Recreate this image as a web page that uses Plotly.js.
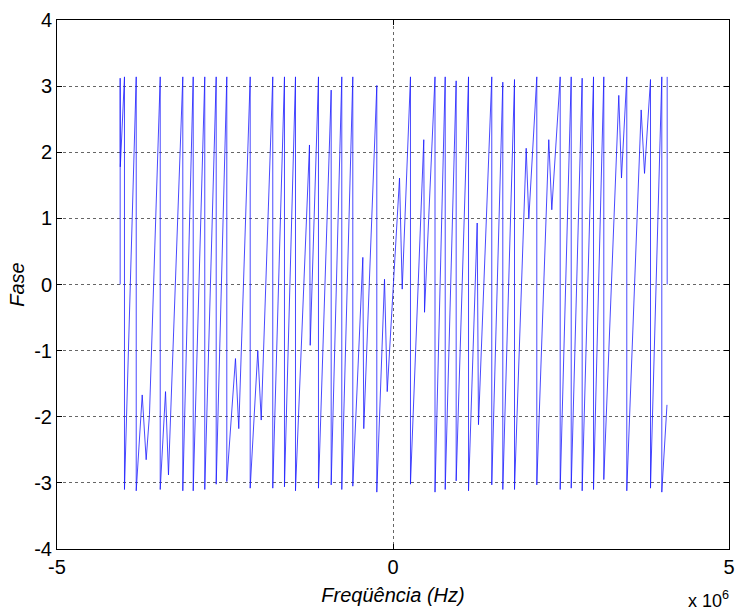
<!DOCTYPE html>
<html>
<head>
<meta charset="utf-8">
<script src="https://cdn.plot.ly/plotly-3.0.1.min.js"></script>
<style>
html,body{margin:0;padding:0;background:#fff;}
#chart{width:738px;height:610px;}
</style>
</head>
<body>
<div id="chart"></div>
<script>
// Frequency in MHz (axis multiplier x 10^6) and wrapped phase values
const freqMHz = [
  -4.060, -4.060, -4.058, -3.996, -3.996, -3.821, -3.821, -3.732, -3.673, -3.624,
  -3.464, -3.464, -3.385, -3.341, -3.128, -3.128, -2.973, -2.973, -2.801, -2.801,
  -2.631, -2.631, -2.473, -2.473, -2.344, -2.295, -2.125, -2.125, -2.012, -1.961,
  -1.789, -1.789, -1.615, -1.615, -1.451, -1.451, -1.243, -1.232, -1.109, -1.109,
  -0.920, -0.920, -0.762, -0.762, -0.598, -0.598, -0.449, -0.435, -0.241, -0.241,
  -0.126, -0.086, 0.097, 0.137, 0.260, 0.260, 0.458, 0.469, 0.625, 0.625,
  0.777, 0.777, 0.940, 0.940, 1.124, 1.124, 1.253, 1.272, 1.470, 1.470,
  1.634, 1.634, 1.808, 1.808, 1.982, 2.021, 2.140, 2.140, 2.318, 2.363,
  2.488, 2.488, 2.652, 2.652, 2.815, 2.815, 2.984, 2.984, 3.137, 3.137,
  3.360, 3.400, 3.479, 3.479, 3.693, 3.743, 3.832, 3.832, 4.000, 4.000,
  4.077, null, 4.080, 4.080
];
const phase = [
  0, 3.12, 1.78, 3.14, -3.10, 3.14, -3.12, -1.67, -2.65, -1.97,
  3.14, -3.10, -1.62, -2.88, 3.14, -3.12, 3.14, -3.12, 3.14, -3.10,
  3.14, -3.02, 3.14, -2.98, -1.12, -2.18, 3.14, -3.08, -1.00, -2.05,
  3.14, -3.08, 3.14, -3.06, 3.14, -3.12, 2.11, -0.92, 3.14, -3.08,
  2.94, -3.03, 3.14, -3.10, 3.14, -3.05, 0.41, -2.18, 3.01, -3.14,
  0.08, -1.62, 1.61, -0.07, 3.14, -3.02, 2.19, -0.42, 3.14, -3.14,
  3.14, -3.10, 3.08, -2.97, 3.14, -3.12, 0.93, -2.12, 3.14, -3.03,
  3.06, -3.10, 3.10, -3.10, 2.06, 0.99, 3.14, -3.03, 2.19, 1.13,
  3.14, -3.10, 3.14, -3.08, 3.12, -3.12, 3.14, -3.10, 3.14, -2.95,
  2.86, 1.61, 3.14, -3.12, 2.64, 1.68, 3.10, -3.08, 3.14, -3.14,
  -1.82, null, 3.14, 0
];
const xTickVals = [-5e6, 0, 5e6];
const xTickText = ['-5', '0', '5'];
const yTickVals = [-4, -3, -2, -1, 0, 1, 2, 3, 4];
const yTickText = ['-4', '-3', '-2', '-1', '0', '1', '2', '3', '4'];

const freqHz = freqMHz.map(v => v === null ? null : v * 1e6);

const tickFont = {family: 'Liberation Sans, Arial, sans-serif', size: 20, color: '#000'};
const titleFont = {family: 'Liberation Sans, Arial, sans-serif', size: 20, color: '#000'};
const multFont = {family: 'Liberation Sans, Arial, sans-serif', size: 18, color: '#000'};

const trace = {
  x: freqHz,
  y: phase,
  type: 'scatter',
  mode: 'lines',
  connectgaps: false,
  line: {color: '#1a1aff', width: 0.8},
  hoverinfo: 'skip'
};

const axisCommon = {
  showline: true, linecolor: '#000', linewidth: 1, mirror: 'ticks',
  ticks: 'inside', ticklen: 5, tickcolor: '#000', tickwidth: 1,
  showgrid: true, gridcolor: '#666', gridwidth: 1, griddash: 'dot',
  zeroline: false, tickfont: tickFont, automargin: false
};

const layout = {
  width: 738, height: 610,
  paper_bgcolor: '#fff', plot_bgcolor: '#fff',
  margin: {l: 57, r: 9, t: 20, b: 61},
  showlegend: false,
  font: tickFont,
  xaxis: Object.assign({}, axisCommon, {
    range: [-5e6, 5e6], tickmode: 'array', tickvals: xTickVals, ticktext: xTickText,
    title: {text: '<i>Freqüência (Hz)</i>', font: titleFont, standoff: 10}
  }),
  yaxis: Object.assign({}, axisCommon, {
    range: [-4, 4], tickmode: 'array', tickvals: yTickVals, ticktext: yTickText,
    title: {text: '<i>Fase</i>', font: titleFont, standoff: 4}
  }),
  annotations: [{
    xref: 'paper', yref: 'paper', x: 1.0, y: 0, xanchor: 'right', yanchor: 'middle',
    yshift: -50, xshift: 2, showarrow: false,
    text: 'x 10<sup>6</sup>', font: multFont
  }]
};

Plotly.newPlot('chart', [trace], layout, {staticPlot: true, displayModeBar: false});
</script>
</body>
</html>
